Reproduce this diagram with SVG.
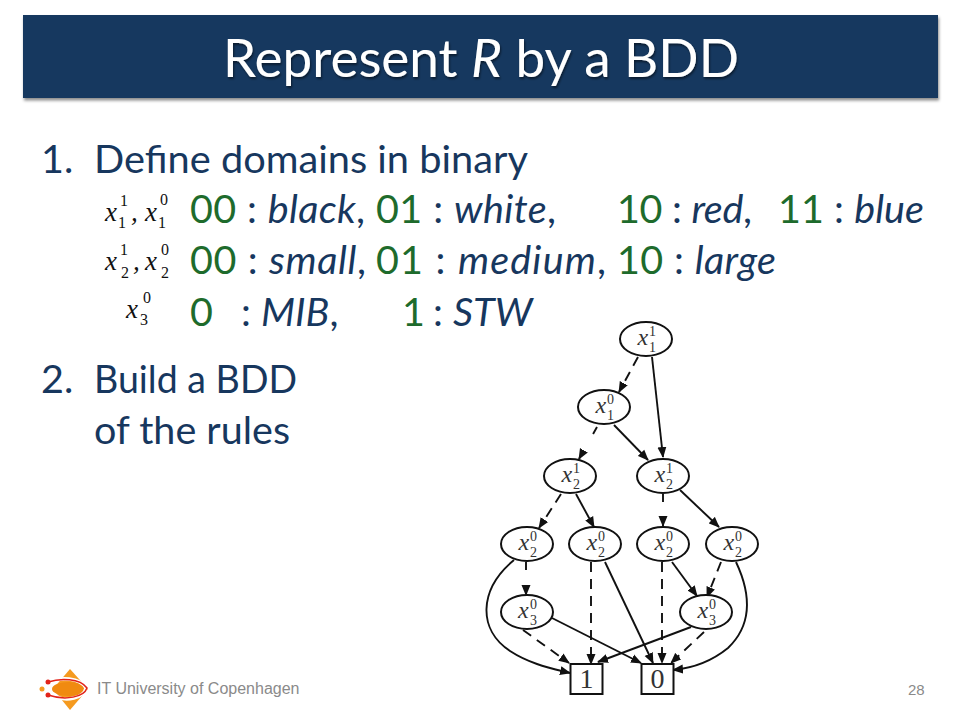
<svg xmlns="http://www.w3.org/2000/svg" width="960" height="720" viewBox="0 0 960 720">
<style>
.b{font-family:Lato,"Open Sans",sans-serif;font-size:39.5px;fill:#17375e}
.g{fill:#1e6b2c}
.t{font-family:Lato,"Open Sans",sans-serif;font-size:53px;fill:#fff}
.i{font-style:italic}
.n{fill:#fff;stroke:#111;stroke-width:2}
.e{fill:none;stroke:#111;stroke-width:1.9;marker-end:url(#a)}
.d{stroke-dasharray:10 7}
.m{font-family:"Liberation Serif",serif;fill:#333;font-size:24px;font-style:italic}
.s{font-family:"Liberation Serif",serif;fill:#333;font-size:14px}
.f{font-family:"Liberation Serif",serif;fill:#111}
.fi{font-style:italic;font-size:27px}
.fs{font-size:16px}
.l{font-family:"Liberation Serif",serif;fill:#333;font-size:28px}
.ft{font-family:"Liberation Sans",sans-serif;fill:#8a8a8a;font-size:16px}
.pg{font-size:15px}
</style>
<defs>
<marker id="a" markerWidth="11" markerHeight="10" refX="10" refY="5" orient="auto" markerUnits="userSpaceOnUse"><path d="M0 0.500L11 5L0 9.500Z" fill="#111"/></marker>
<filter id="sh" x="-2%" y="-10%" width="104%" height="125%"><feDropShadow dx="1" dy="2.5" stdDeviation="1.5" flood-color="#000" flood-opacity=".45"/></filter>
<filter id="ts" x="-5%" y="-10%" width="110%" height="125%"><feDropShadow dx="1" dy="2" stdDeviation="1" flood-color="#000" flood-opacity=".5"/></filter>
</defs>
<rect width="960" height="720" fill="#fff"/>
<g id="title">
<rect x="23" y="15" width="915" height="83" fill="#17375e" filter="url(#sh)"/>
<text class="t" x="481" y="77" text-anchor="middle" filter="url(#ts)">Represent <tspan class="i">R</tspan> by a BDD</text>
</g>
<g id="body">
<text class="b" x="41" y="173">1.</text><text class="b" x="94" y="173" textLength="434" lengthAdjust="spacingAndGlyphs">Define domains in binary</text>
<text class="b" x="41" y="393">2.</text><text class="b" x="94" y="393" textLength="203" lengthAdjust="spacingAndGlyphs">Build a BDD</text>
<text class="b" x="94" y="444">of the rules</text>
<text class="b" x="190" y="223" textLength="175" lengthAdjust="spacing"><tspan class="g">00</tspan> : <tspan class="i">black</tspan>,</text>
<text class="b" x="376" y="223" textLength="180" lengthAdjust="spacing"><tspan class="g">01</tspan> : <tspan class="i">white</tspan>,</text>
<text class="b" x="617" y="223" textLength="135" lengthAdjust="spacing"><tspan class="g">10</tspan> : <tspan class="i">red</tspan>,</text>
<text class="b" x="778" y="223" textLength="146" lengthAdjust="spacing"><tspan class="g">11</tspan> : <tspan class="i">blue</tspan></text>
<text class="b" x="190" y="274" textLength="176" lengthAdjust="spacing"><tspan class="g">00</tspan> : <tspan class="i">small</tspan>,</text>
<text class="b" x="376" y="274" textLength="230" lengthAdjust="spacing"><tspan class="g">01</tspan> : <tspan class="i">medium</tspan>,</text>
<text class="b" x="617" y="274" textLength="159" lengthAdjust="spacing"><tspan class="g">10</tspan> : <tspan class="i">large</tspan></text>
<text class="b g" x="190" y="326">0</text><text class="b" x="241" y="326">: <tspan class="i">MIB</tspan>,</text>
<text class="b g" x="402" y="326">1</text><text class="b" x="433" y="326">: <tspan class="i">STW</tspan></text>
</g>
<g id="formulas">
<text class="f fi" x="105" y="221">x</text><text class="f fs" x="120" y="206">1</text><text class="f fs" x="118" y="228">1</text><text class="f fi" x="131" y="221">,</text><text class="f fi" x="145" y="221">x</text><text class="f fs" x="160" y="205">0</text><text class="f fs" x="158" y="228">1</text>
<text class="f fi" x="105" y="270">x</text><text class="f fs" x="120" y="255">1</text><text class="f fs" x="121" y="278">2</text><text class="f fi" x="133" y="270">,</text><text class="f fi" x="145" y="270">x</text><text class="f fs" x="161" y="255">0</text><text class="f fs" x="161" y="278">2</text>
<text class="f fi" x="126" y="318">x</text><text class="f fs" x="143" y="303">0</text><text class="f fs" x="140" y="325">3</text>
</g>
<g id="connectors">
<path class="e d" d="M638 357L619 392"/>
<path class="e" d="M652 357L663 457"/>
<path class="e" d="M597 427L579 459" style="stroke-dasharray:8 22"/>
<path class="e" d="M614 425L648 460"/>
<path class="e d" d="M561 494L539 528"/>
<path class="e" d="M576 494L594 527"/>
<path class="e" d="M663 494V526" style="stroke-dasharray:8 16"/>
<path class="e" d="M680 490L719 527"/>
<path class="e" d="M526 562V595" style="stroke-dasharray:8 16"/>
<path class="e" d="M514 560C478 590 478 630 510 651C530 664 550 668 570 673"/>
<path class="e d" d="M591 562V664"/>
<path class="e" d="M605 562L653 663"/>
<path class="e d" d="M662 562V663"/>
<path class="e" d="M672 562L697 596"/>
<path class="e d" d="M721 562L707 597"/>
<path class="e" d="M736 562C752 596 752 625 728 648C712 661 695 668 673 670"/>
<path class="e d" d="M523 630L569 663"/>
<path class="e" d="M552 618L641 663"/>
<path class="e" d="M691 627L598 662"/>
<path class="e d" d="M704 632L671 663"/>
</g>
<g id="n1"><ellipse class="n" cx="646" cy="339" rx="26" ry="17"/><text class="m" x="637.500" y="345">x</text><text class="s" x="649" y="336">1</text><text class="s" x="649" y="352">1</text></g>
<g id="n2"><ellipse class="n" cx="604" cy="407" rx="26" ry="17"/><text class="m" x="595.500" y="413">x</text><text class="s" x="607" y="404">0</text><text class="s" x="607" y="420">1</text></g>
<g id="n3"><ellipse class="n" cx="570" cy="476" rx="26" ry="17"/><text class="m" x="561.500" y="482">x</text><text class="s" x="573" y="473">1</text><text class="s" x="573" y="489">2</text></g>
<g id="n4"><ellipse class="n" cx="663" cy="476" rx="26" ry="17"/><text class="m" x="654.500" y="482">x</text><text class="s" x="666" y="473">1</text><text class="s" x="666" y="489">2</text></g>
<g id="n5"><ellipse class="n" cx="527" cy="544" rx="26" ry="17"/><text class="m" x="518.500" y="550">x</text><text class="s" x="530" y="541">0</text><text class="s" x="530" y="557">2</text></g>
<g id="n6"><ellipse class="n" cx="595" cy="544" rx="26" ry="17"/><text class="m" x="586.500" y="550">x</text><text class="s" x="598" y="541">0</text><text class="s" x="598" y="557">2</text></g>
<g id="n7"><ellipse class="n" cx="663" cy="544" rx="26" ry="17"/><text class="m" x="654.500" y="550">x</text><text class="s" x="666" y="541">0</text><text class="s" x="666" y="557">2</text></g>
<g id="n8"><ellipse class="n" cx="732" cy="544" rx="26" ry="17"/><text class="m" x="723.500" y="550">x</text><text class="s" x="735" y="541">0</text><text class="s" x="735" y="557">2</text></g>
<g id="n9"><ellipse class="n" cx="527" cy="612" rx="26" ry="17"/><text class="m" x="518" y="618">x</text><text class="s" x="530" y="609">0</text><text class="s" x="530" y="625">3</text></g>
<g id="n10"><ellipse class="n" cx="706" cy="612" rx="26" ry="17"/><text class="m" x="697.500" y="618">x</text><text class="s" x="709" y="609">0</text><text class="s" x="709" y="625">3</text></g>
<g id="n11"><rect class="n" x="570.500" y="664" width="32" height="30"/><text class="l" x="586.500" y="688" text-anchor="middle">1</text></g>
<g id="n12"><rect class="n" x="641.500" y="664" width="32" height="30"/><text class="l" x="657.500" y="688" text-anchor="middle">0</text></g>
<g id="logo">
<path d="M70 669L88 689L70 710L53 689Z" fill="#f59a1f"/>
<ellipse cx="69" cy="689" rx="17" ry="7" fill="#f08a10"/>
<path d="M48 682C60 677 80 677 86 688C84 698 66 702 55 696" fill="none" stroke="#fff" stroke-width="3.500"/>
<path d="M48 682C60 678 80 678 87 688C84 697 66 701 48 695" fill="none" stroke="#e2231a" stroke-width="1.500"/>
<circle cx="48" cy="682" r="2.500" fill="#e2231a"/><circle cx="48" cy="695" r="2.500" fill="#e2231a"/><circle cx="42" cy="689" r="2.500" fill="#f59a1f"/>
</g>
<g id="footer">
<text class="ft" x="97" y="694">IT University of Copenhagen</text>
<text class="ft pg" x="908" y="695">28</text>
</g>
</svg>
